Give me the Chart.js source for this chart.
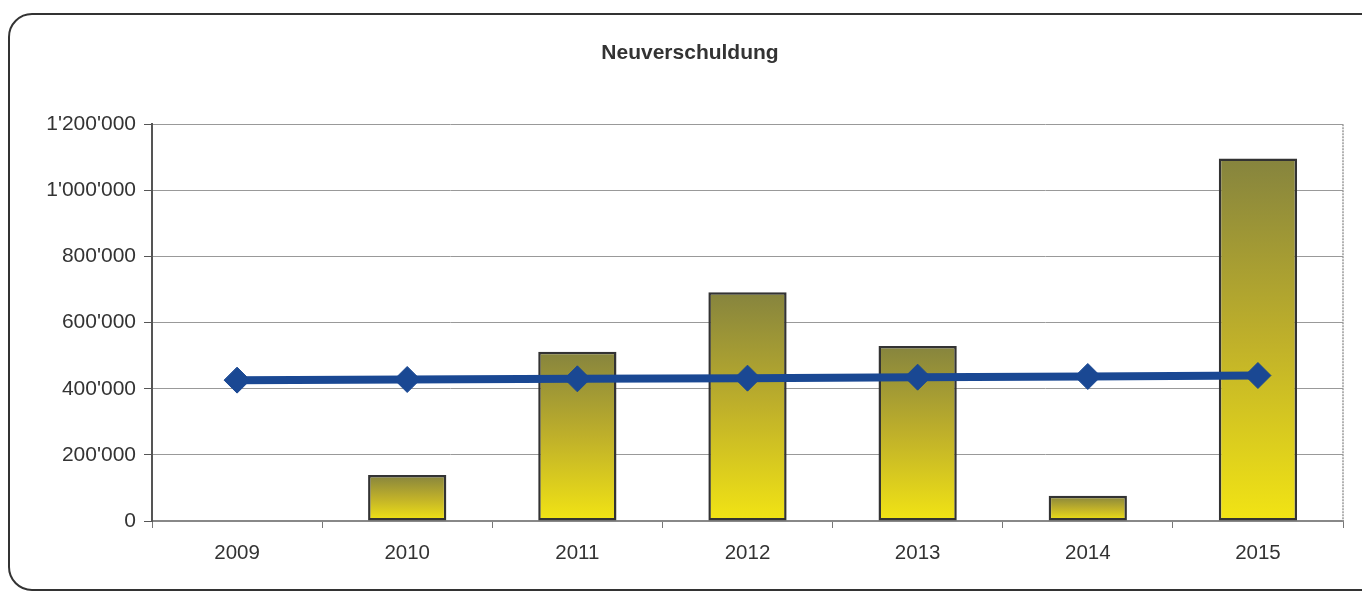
<!DOCTYPE html>
<html>
<head>
<meta charset="utf-8">
<script src="https://cdn.jsdelivr.net/npm/chart.js@4"></script>
<style>
  html, body { margin: 0; padding: 0; background: #fff; overflow: hidden; }
  #frame {
    position: absolute; left: 8px; top: 13px; width: 1390px; height: 578px;
    border: 2px solid #333; border-radius: 24px; box-sizing: border-box;
  }
  #wrap { position: absolute; left: 0; top: 0; width: 1362px; height: 596px; }
</style>
</head>
<body>
<div id="frame"></div>
<div id="wrap"><canvas id="chart"></canvas></div>
<script>
// Jahre auf der x-Achse
const years = ['2009', '2010', '2011', '2012', '2013', '2014', '2015'];
// Neuverschuldung pro Jahr (Balken)
const neuverschuldung = [0, 139000, 512000, 692000, 529000, 76000, 1096000];
// Linie (Durchschnitt)
const durchschnitt = [426000, 428000, 430000, 432000, 435000, 437000, 440000];

const yMax = 1200000;
const yStep = 200000;

function fmt(v) {
  return String(v).replace(/\B(?=(\d{3})+(?!\d))/g, "'");
}

function barGradient(ctx) {
  const chart = ctx.chart;
  if (!chart.chartArea || ctx.parsed === undefined) return '#c8c030';
  const y = chart.scales.y;
  const top = y.getPixelForValue(ctx.parsed.y);
  const bottom = y.getPixelForValue(0);
  if (bottom - top < 1) return '#e8dc20';
  const g = chart.ctx.createLinearGradient(0, top, 0, bottom);
  g.addColorStop(0, '#86843e');
  g.addColorStop(0.5, '#bfb02a');
  g.addColorStop(1, '#f2e414');
  return g;
}

// Rahmen rechts um die Zeichenfläche, Titel etwas nach rechts
const areaBorder = {
  id: 'areaBorder',
  afterLayout(chart) {
    if (chart.titleBlock) chart.titleBlock.left += 37;
  },
  afterDraw(chart) {
    const a = chart.chartArea;
    const c = chart.ctx;
    c.save();
    c.strokeStyle = '#999';
    c.lineWidth = 1.5;
    c.setLineDash([2, 1]);
    c.beginPath();
    c.moveTo(a.right, a.top);
    c.lineTo(a.right, a.bottom);
    c.stroke();
    c.restore();
  }
};

Chart.defaults.font.family = "'Liberation Sans', Arial, sans-serif";
Chart.defaults.color = '#333';

new Chart(document.getElementById('chart'), {
  data: {
    labels: years,
    datasets: [
      {
        type: 'line',
        data: durchschnitt,
        borderColor: '#1a4893',
        borderWidth: 8,
        pointStyle: 'rectRot',
        pointRadius: 13,
        pointBackgroundColor: '#1a4893',
        pointBorderColor: '#1a4893',
        pointBorderWidth: 1,
        tension: 0
      },
      {
        type: 'bar',
        data: neuverschuldung,
        backgroundColor: barGradient,
        borderColor: '#333',
        borderWidth: 2.5,
        borderSkipped: false,
        barPercentage: 0.46,
        categoryPercentage: 1
      }
    ]
  },
  options: {
    responsive: true,
    maintainAspectRatio: false,
    animation: false,
    layout: { padding: { left: 0, right: 19, top: 0, bottom: 0 } },
    plugins: {
      legend: { display: false },
      tooltip: { enabled: false },
      title: {
        display: true,
        text: 'Neuverschuldung',
        font: { size: 21, weight: 'bold' },
        color: '#333',
        padding: { top: 41, bottom: 58 }
      }
    },
    scales: {
      x: {
        offset: true,
        grid: { offset: true, drawOnChartArea: false, drawTicks: true, tickLength: 7, color: '#777' },
        border: { color: '#888', width: 2 },
        ticks: { font: { size: 20.5 }, color: '#333', padding: 13 },
        afterFit(s) { s.height = 75; }
      },
      y: {
        min: 0,
        max: yMax,
        ticks: { stepSize: yStep, font: { size: 21 }, color: '#333', padding: 8, callback: v => fmt(v) },
        grid: { color: '#999', lineWidth: 1, tickLength: 8, tickColor: '#555' },
        border: { color: '#555', width: 2 },
        afterFit(s) { s.width = 152; }
      }
    }
  },
  plugins: [areaBorder]
});
</script>
</body>
</html>
